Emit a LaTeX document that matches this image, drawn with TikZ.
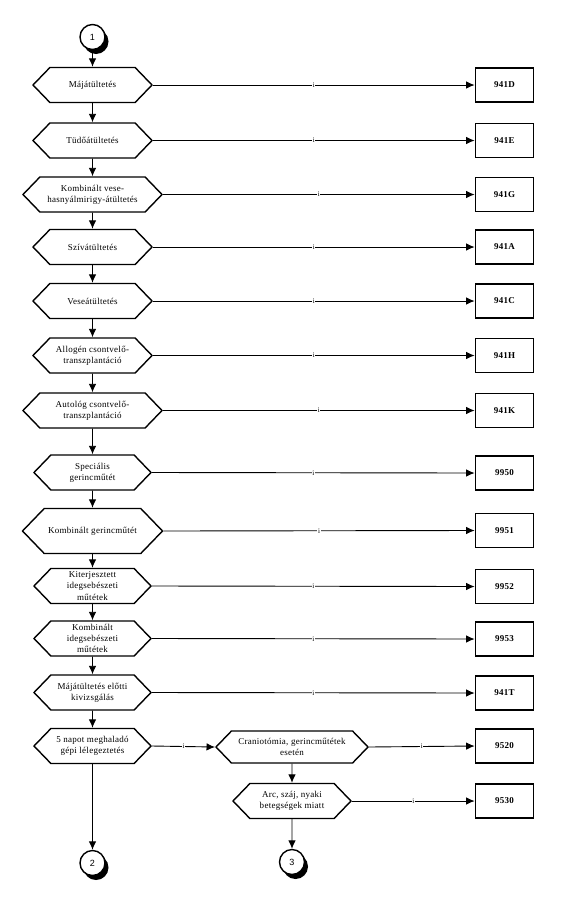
\documentclass[tikz,border=0pt]{standalone}
\usepackage{fontspec}
\setmainfont{Liberation Serif}[LetterSpace=3]
\newfontfamily\numfont{Liberation Sans}
\usetikzlibrary{arrows.meta,shapes.symbols,shadows}

\begin{document}
\begin{tikzpicture}[x=1pt, y=-1pt, >={Latex[length=8.5pt,width=7.5pt]},
  hexa/.style={signal, signal to=east and west, signal pointer angle=92,
    draw, line width=1.4pt, fill=white, minimum width=119pt, minimum height=35pt,
    inner xsep=1pt, inner ysep=1pt, align=center,
    font=\fontsize{9}{11.2}\selectfont},
  codebox/.style={draw, line width=1.7pt, minimum width=58pt, minimum height=34pt,
    font=\bfseries\fontsize{9}{10}\selectfont},
  conn/.style={->, line width=0.9pt},
  ilabel/.style={fill=white, inner sep=0.6pt, font=\fontsize{7}{7}\selectfont},
  endpoint/.style={circle, draw, line width=1.4pt, fill=white, minimum size=25pt,
    inner sep=0pt, font=\numfont\fontsize{9}{10}\selectfont,
    general shadow={fill=black, shadow xshift=3.5pt, shadow yshift=-4.5pt}}]

\useasboundingbox (0,0) rectangle (566,903);

% Entry point
\node[endpoint] (c1) at (92.5,37) {1};

% Main column
\node[hexa] (h1) at (92.5,85) {Májátültetés};
\node[hexa] (h2) at (92.5,140.5) {Tüdőátültetés};
\node[hexa, minimum width=139pt] (h3) at (92.5,194.5) {Kombinált vese-\\hasnyálmirigy-átültetés};
\node[hexa] (h4) at (92.5,247) {Szívátültetés};
\node[hexa] (h5) at (92.5,301) {Veseátültetés};
\node[hexa] (h6) at (92.5,355.5) {Allogén csontvelő-\\transzplantáció};
\node[hexa, minimum width=139pt] (h7) at (92.5,410.5) {Autológ csontvelő-\\transzplantáció};
\node[hexa, minimum width=117pt] (h8) at (92.5,472.5) {Speciális\\gerincműtét};
\node[hexa, minimum width=140pt, minimum height=45pt] (h9) at (92.5,531) {Kombinált gerincműtét};
\node[hexa, minimum width=117pt] (h10) at (92.5,586) {Kiterjesztett\\idegsebészeti\\műtétek};
\node[hexa, minimum width=117pt] (h11) at (92.5,638.5) {Kombinált\\idegsebészeti\\műtétek};
\node[hexa, minimum width=117pt] (h12) at (92.5,692.5) {Májátültetés előtti\\kivizsgálás};
\node[hexa, minimum width=117pt] (h13) at (92.5,746) {5 napot meghaladó\\gépi lélegeztetés};

% Side branch
\node[hexa, minimum width=152pt, minimum height=32pt] (h14) at (292,747) {Craniotómia, gerincműtétek\\esetén};
\node[hexa, minimum width=118pt] (h15) at (292,801) {Arc, száj, nyaki\\betegségek miatt};

% Exit points
\node[endpoint] (c2) at (92.5,863) {2};
\node[endpoint] (c3) at (292,862) {3};

% Codes
\foreach \i/\y/\code in {1/85/941D, 2/140.5/941E, 3/194.5/941G, 4/247/941A,
    5/301/941C, 6/355.5/941H, 7/410.5/941K, 8/473/9950, 9/530.5/9951,
    10/586.5/9952, 11/639/9953, 12/693/941T}
{
    \node[codebox] (b\i) at (504.5,\y) {\code};
}
\node[codebox] (b14) at (504.5,746) {9520};
\node[codebox] (b15) at (504.5,801) {9530};

% Vertical flow
\draw[conn] (c1) -- (h1);
\foreach \i [evaluate=\i as \j using int(\i+1)] in {1,...,12}
{
    \draw[conn] (h\i) -- (h\j);
}
\draw[conn] (h13) -- (c2);
\draw[conn] (h14) -- (h15);
\draw[conn] (h15) -- (c3);

% Branches to codes
\foreach \i in {1,...,12,14,15}
{
    \draw[conn] (h\i.east) -- node[ilabel] {i} (b\i.west);
}
\draw[conn] (h13.east) -- node[ilabel] {i} (h14.west);

\end{tikzpicture}
\end{document}
